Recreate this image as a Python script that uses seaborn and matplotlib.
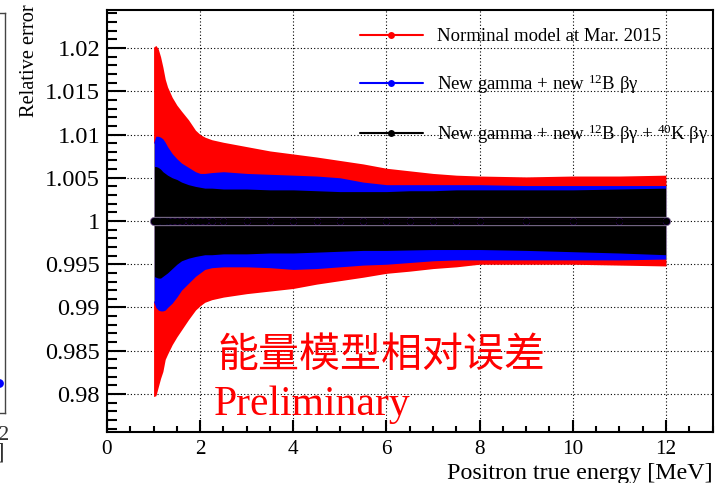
import matplotlib
matplotlib.use("Agg")
import matplotlib.pyplot as plt
import matplotlib.patheffects as pe
from matplotlib.ticker import MultipleLocator, FuncFormatter
import seaborn as sns

# Positron true energy [MeV] at which the relative error bands are evaluated
energy = [1.0, 1.05, 1.1, 1.15, 1.2, 1.25, 1.3, 1.4, 1.5, 1.6, 1.75, 1.9, 2.0, 2.1,
          2.25, 2.5, 3.0, 3.5, 4.0, 4.5, 5.0, 5.5, 6.0, 6.5, 7.0, 7.5, 8.0, 9.0,
          10.0, 11.0, 12.0]

# Nominal model (Mar. 2015): upper / lower edge of the band
nominal_hi = [1.0201, 1.0203, 1.0199, 1.0190, 1.0178, 1.0164, 1.0155, 1.0143, 1.0134,
              1.0127, 1.0117, 1.0105, 1.0100, 1.0097, 1.0094, 1.0091, 1.0086, 1.0081,
              1.00775, 1.0074, 1.0070, 1.0066, 1.0061, 1.0058, 1.0055, 1.0053, 1.0052,
              1.0051, 1.0052, 1.0052, 1.0053]
nominal_lo = [0.9797, 0.9798, 0.9808, 0.9818, 0.9826, 0.9840, 0.9846, 0.9857, 0.9866,
              0.9874, 0.9886, 0.9897, 0.9902, 0.9906, 0.9909, 0.9912, 0.9916, 0.9919,
              0.9922, 0.9927, 0.9931, 0.9935, 0.99395, 0.9942, 0.9945, 0.9947, 0.9950,
              0.9950, 0.9950, 0.9949, 0.9948]

# New gamma + new 12B beta-gamma
b12_hi = [1.0090, 1.0098, 1.0098, 1.0097, 1.0095, 1.0091, 1.0086, 1.0078, 1.0072,
          1.0067, 1.0062, 1.0057, 1.0055, 1.0055, 1.0056, 1.0057, 1.0055, 1.0054,
          1.0053, 1.0052, 1.0050, 1.0045, 1.0042, 1.0042, 1.0042, 1.0042, 1.0042,
          1.0041, 1.0041, 1.0041, 1.0041]
b12_lo = [0.9907, 0.9900, 0.9897, 0.9896, 0.9896, 0.9897, 0.9900, 0.9905, 0.9912,
          0.9920, 0.9928, 0.9936, 0.9940, 0.9944, 0.9946, 0.9947, 0.9947, 0.9946,
          0.9944, 0.9945, 0.9947, 0.9949, 0.9950, 0.9952, 0.9954, 0.9955, 0.9955,
          0.9955, 0.9955, 0.9955, 0.9956]

# New gamma + new 12B beta-gamma + 40K beta-gamma
k40_hi = [1.0063, 1.0063, 1.0062, 1.0060, 1.0057, 1.0055, 1.0053, 1.0050, 1.0048,
          1.0045, 1.0042, 1.0040, 1.0039, 1.0038, 1.0038, 1.0037, 1.0037, 1.0036,
          1.0036, 1.0035, 1.0034, 1.0034, 1.0034, 1.0035, 1.0035, 1.0036, 1.0036,
          1.0036, 1.0036, 1.0037, 1.0038]
k40_lo = [0.9936, 0.9935, 0.9934, 0.9934, 0.9936, 0.9938, 0.9940, 0.9945, 0.9950,
          0.9954, 0.9957, 0.9959, 0.9960, 0.9961, 0.9961, 0.9962, 0.9962, 0.9963,
          0.9963, 0.9964, 0.9965, 0.9966, 0.9966, 0.99665, 0.9967, 0.9967, 0.9967,
          0.9966, 0.99645, 0.9963, 0.9961]

# central value of the ratio
center = [1.0] * len(energy)

model_labels = ["Norminal model at Mar. 2015",
                r"New gamma + new $^{12}$B βγ",
                r"New gamma + new $^{12}$B βγ + $^{40}$K βγ"]
model_colors = ["#ff0000", "#0000ff", "#000000"]

x_ticks = [0, 2, 4, 6, 8, 10, 12]
y_ticks = [0.98, 0.985, 0.99, 0.995, 1.0, 1.005, 1.01, 1.015, 1.02]

# neighbouring panel (only its right edge is within the figure)
side_energy = [12.0]
side_value = [0.9793]

SERIF = "Liberation Serif"

sns.set_theme(style="white")
plt.rcParams["font.family"] = [SERIF, "DejaVu Serif"]
plt.rcParams["font.serif"] = [SERIF, "DejaVu Serif"]
plt.rcParams["mathtext.fontset"] = "custom"
plt.rcParams["mathtext.rm"] = SERIF
plt.rcParams["mathtext.it"] = SERIF + ":italic"
plt.rcParams["mathtext.bf"] = SERIF + ":bold"

W, H = 717, 483
fig = plt.figure(figsize=(W / 100, H / 100), dpi=100)
ax = fig.add_axes([107 / W, 1 - 432 / H, 605.5 / W, 422 / H])

# bands
bands = [(nominal_lo, nominal_hi), (b12_lo, b12_hi), (k40_lo, k40_hi)]
for i, ((lo, hi), col) in enumerate(zip(bands, model_colors)):
    ax.fill_between(energy, lo, hi, color=col, linewidth=0, zorder=2 + i)

ax.vlines([energy[0], energy[-1]], [b12_lo[0], b12_lo[-1]], [b12_hi[0], b12_hi[-1]],
          color="#8c7c9c", linewidth=0.7, zorder=4.5)

# central thick line with thin light edges
sns.lineplot(x=energy, y=center, color="black", linewidth=5.2, ax=ax, zorder=5,
             path_effects=[pe.Stroke(linewidth=6.7, foreground="#7f7090"), pe.Normal()])

for col, lab in zip(model_colors, model_labels):
    sns.lineplot(x=energy, y=center, color=col, linewidth=1.5, marker="o",
                 markersize=5, markeredgewidth=0, label=lab, ax=ax, zorder=6)

ax.set_xlim(0, 13)
ax.set_ylim(0.9756, 1.0244)
ax.set_xticks(x_ticks)
ax.set_yticks(y_ticks)
ax.xaxis.set_minor_locator(MultipleLocator(0.5))
ax.yaxis.set_minor_locator(MultipleLocator(0.001))
fmt = FuncFormatter(lambda v, p: f"{round(v, 4):g}")
ax.xaxis.set_major_formatter(fmt)
ax.yaxis.set_major_formatter(fmt)

ax.set_axisbelow(True)
ax.grid(True, which="major", color="black", linestyle=(0, (1, 2)), linewidth=0.8)

ax.tick_params(axis="y", which="major", direction="in", length=13.5, width=1.5,
               labelsize=17.6, pad=5, color="black", labelcolor="black",
               labelfontfamily=SERIF)
ax.tick_params(axis="y", which="minor", direction="in", length=7, width=1.5, color="black")
ax.tick_params(axis="x", which="major", direction="in", length=8.5, width=1.5,
               labelsize=15.3, pad=5.4, color="black", labelcolor="black",
               labelfontfamily=SERIF)
ax.tick_params(axis="x", which="minor", direction="in", length=4, width=1.5, color="black")
ax.tick_params(left=True, bottom=True, which="both")
for s in ax.spines.values():
    s.set_linewidth(1.5)
    s.set_color("black")
    s.set_zorder(10)

ax.set_xlabel("Positron true energy [MeV]", fontsize=17.3, loc="right", color="black",
              family=SERIF)
ax.xaxis.set_label_coords(1.0, -(478.7 - 432) / 422)
ax.xaxis.label.set_va("baseline")
ax.set_ylabel("Relative error", fontsize=14.7, loc="top", color="black", family=SERIF)
ax.yaxis.set_label_coords((34.5 - 107) / 605.5, (432 - 4) / 422)
ax.yaxis.label.set_va("baseline")

handles, labels = ax.get_legend_handles_labels()
ax.legend(handles, labels, loc="upper left", bbox_to_anchor=(360 / W, 1 - 28 / H),
          bbox_transform=fig.transFigure, frameon=False,
          prop={"family": SERIF, "size": 13.5},
          handlelength=3.35, handletextpad=0.75, labelspacing=1.44,
          borderpad=0, borderaxespad=0, labelcolor="black")

ax.text((218 - 107) / 605.5, (432 - 367) / 422, "能量模型相对误差", transform=ax.transAxes,
        family=["Noto Sans CJK SC", "DejaVu Sans"], fontsize=29.5, fontweight="light",
        color="red", va="baseline", ha="left", zorder=7)
ax.text((214 - 107) / 605.5, (432 - 415) / 422, "Preliminary", transform=ax.transAxes,
        fontsize=30, color="red", va="baseline", ha="left", zorder=7, family=SERIF)

# neighbouring panel on the left
nb = fig.add_axes([-287 / W, 1 - 413 / H, 292 / W, 400 / H])
sns.scatterplot(x=side_energy, y=side_value, color="#0000ff", s=40, linewidth=0, ax=nb)
nb.set_xlim(0, 12.25)
nb.set_ylim(0.9756, 1.0244)
nb.set_xticks([12])
nb.set_yticks([])
nb.xaxis.set_major_formatter(fmt)
nb.tick_params(axis="x", direction="in", length=4, labelsize=15.3, pad=9,
               labelcolor="#333333", labelfontfamily=SERIF)
for s in nb.spines.values():
    s.set_linewidth(1.0)
    s.set_color("#444444")
nb.set_xlabel("Positron true energy [MeV]", fontsize=17.3, loc="right", color="#333333",
              family=SERIF)
nb.xaxis.set_label_coords(1.0, -(459 - 413) / 400)
nb.xaxis.label.set_va("baseline")

fig.savefig("out.png", dpi=100)
